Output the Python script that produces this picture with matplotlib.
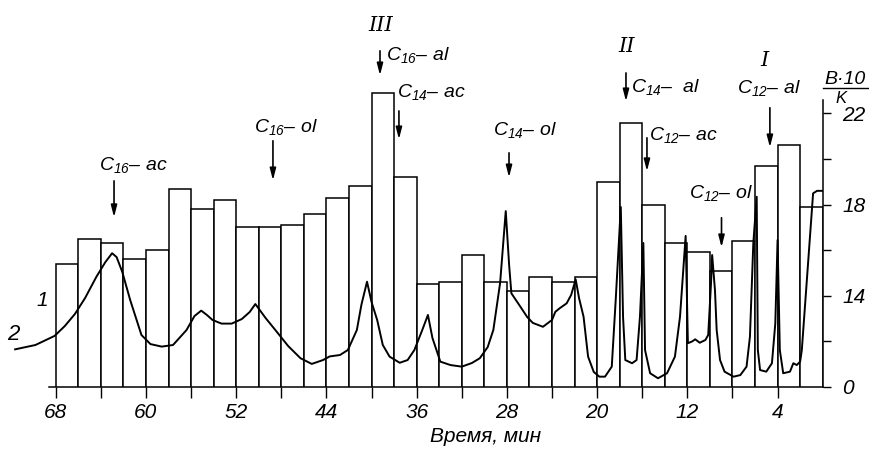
import numpy as np
import matplotlib
matplotlib.use('Agg')
import matplotlib.pyplot as plt

plt.rcParams['font.family'] = ['Liberation Sans', 'DejaVu Sans']
plt.rcParams['font.style'] = 'italic'
plt.rcParams['mathtext.fontset'] = 'custom'
plt.rcParams['mathtext.rm'] = 'Liberation Sans:italic'
plt.rcParams['mathtext.it'] = 'Liberation Sans:italic'

# fractions: 2-min cuts from 68 to 0 min, B*10/K per fraction
fraction_mid = np.arange(67, 0, -2)
fraction_val = [15.4, 16.5, 16.3, 15.6, 16.0, 18.7, 17.8, 18.2, 17.0, 17.0,
                17.1, 17.6, 18.3, 18.8, 22.9, 19.2, 14.5, 14.6, 15.8, 14.6,
                14.2, 14.8, 14.6, 14.8, 19.0, 21.6, 18.0, 16.3, 15.9, 15.1,
                16.4, 19.7, 20.6, 17.9]

# chromatogram trace (detector signal, arbitrary units)
trace_time = [71.6, 69.8, 68.1, 67.2, 66.3, 65.4, 64.4, 63.6, 63.0, 62.6,
              62.1, 61.4, 60.4, 59.6, 58.6, 57.6, 56.4, 55.7, 55.1, 54.6,
              54.1, 53.3, 52.4, 51.5, 50.8, 50.3, 49.4, 48.4, 47.4, 46.3,
              45.3, 44.3, 43.7, 42.8, 42.1, 41.3, 40.9, 40.4, 40.0, 39.5,
              39.0, 38.4, 37.5, 36.8, 36.2, 35.5, 35.0, 34.6, 33.9, 33.0,
              32.0, 31.1, 30.4, 29.7, 29.2, 28.6, 28.1, 27.8, 27.6, 26.8,
              26.2, 25.7, 24.8, 24.0, 23.7, 23.3, 22.7, 22.3, 21.9, 21.6,
              21.2, 20.8, 20.3, 19.8, 19.3, 18.7, 18.35, 17.9, 17.7, 17.5,
              16.9, 16.5, 16.2, 15.9, 15.75, 15.3, 14.6, 13.8, 13.1, 12.65,
              12.15, 11.95, 11.6, 11.3, 10.9, 10.4, 10.15, 9.9, 9.8, 9.55,
              9.4, 9.1, 8.7, 7.9, 7.3, 6.75, 6.45, 6.15, 5.85, 5.75,
              5.55, 5.0, 4.5, 4.2, 4.0, 3.8, 3.5, 2.9, 2.6, 2.3,
              2.0, 1.85, 0.85, 0.5, 0.05]
trace_signal = [1.64, 1.83, 2.23, 2.66, 3.19, 3.89, 4.82, 5.47, 5.86, 5.69,
                5.04, 3.81, 2.27, 1.87, 1.76, 1.83, 2.49, 3.10, 3.34, 3.15,
                2.93, 2.77, 2.77, 2.97, 3.28, 3.63, 3.02, 2.41, 1.79, 1.25,
                1.00, 1.17, 1.33, 1.39, 1.61, 2.49, 3.59, 4.61, 3.72, 2.93,
                1.83, 1.32, 1.05, 1.17, 1.61, 2.49, 3.15, 2.14, 1.10, 0.95,
                0.88, 1.04, 1.25, 1.74, 2.49, 4.55, 7.71, 5.34, 4.10, 3.51,
                3.06, 2.80, 2.63, 2.93, 3.29, 3.45, 3.66, 4.03, 4.71, 3.89,
                3.07, 1.32, 0.65, 0.44, 0.44, 0.88, 3.81, 7.89, 3.07, 1.17,
                1.03, 1.17, 3.07, 6.31, 1.61, 0.59, 0.37, 0.59, 1.32, 3.07,
                6.62, 1.91, 1.98, 2.08, 1.93, 2.05, 2.27, 4.54, 5.78, 4.24,
                2.49, 1.17, 0.66, 0.44, 0.51, 0.88, 2.19, 6.30, 8.34, 1.61,
                0.73, 0.66, 1.03, 2.78, 6.44, 1.61, 0.59, 0.66, 1.03, 0.95,
                1.10, 1.61, 8.49, 8.60, 8.60]

# peak markers: name, arrow time, arrow top, arrow tip, label pos (t, v)
marker_names = ['C$_{16}$– ac', 'C$_{16}$– ol', 'C$_{16}$– al', 'C$_{14}$– ac',
                'C$_{14}$– ol', 'C$_{14}$–  al', 'C$_{12}$– ac', 'C$_{12}$– ol',
                'C$_{12}$– al']
marker_time = [62.83, 48.74, 39.25, 37.57, 27.81, 17.44, 15.58, 8.97, 4.68]
marker_top = [19.16, 20.92, 24.87, 22.23, 20.39, 23.9, 21.05, 17.54, 22.37]
marker_tip = [17.32, 18.94, 23.55, 20.74, 19.07, 22.41, 19.34, 16.0, 20.39]
label_time = [61.1, 47.6, 35.9, 34.7, 26.4, 13.9, 12.4, 9.0, 4.8]
label_val = [19.75, 21.4, 24.56, 22.94, 21.27, 23.16, 21.03, 18.5, 23.12]

group_names = ['III', 'II', 'I']
group_time = [39.16, 17.35, 5.14]
group_val = [25.88, 24.96, 24.34]

fig = plt.figure(figsize=(8.69, 4.5), dpi=100)
ax = fig.add_axes([0.0122, 0.1407, 0.9345, 0.8593])

ax.bar(fraction_mid, fraction_val, width=2, color='white', edgecolor='black', linewidth=1.1)
ax.set_xlim(72, 0)
ax.set_ylim(10, 26.98)

ax2 = ax.twinx()
ax2.plot(trace_time, trace_signal, color='black', lw=1.4)
ax2.set_ylim(0, 16.98)
ax2.axis('off')

for s in ['top', 'left']:
    ax.spines[s].set_visible(False)
ax.spines['bottom'].set_bounds(0, 68.6)
ax.spines['right'].set_bounds(10, 22.6)
ax.spines['bottom'].set_linewidth(1.1)
ax.spines['right'].set_linewidth(1.1)

ax.set_xticks(np.arange(68, 0, -4))
ax.set_xticklabels([str(t) if t % 8 == 4 else '' for t in range(68, 0, -4)])
ax.tick_params(axis='x', direction='out', length=8, width=1.0, labelsize=15, pad=4)

ax.yaxis.tick_right()
ax.set_yticks([10, 12, 14, 16, 18, 20, 22])
ax.set_yticklabels(['0', '', '14', '', '18', '', '22'])
ax.tick_params(axis='y', direction='out', length=6, width=1.0, labelsize=15, pad=8)

for i in range(len(marker_names)):
    ax.annotate('', xy=(marker_time[i], marker_tip[i]), xytext=(marker_time[i], marker_top[i]),
                arrowprops=dict(arrowstyle='-|>,head_length=0.7,head_width=0.18',
                                color='black', lw=1.2))
    ax.text(label_time[i], label_val[i], marker_names[i], ha='center', va='center',
            fontsize=14, clip_on=False)

for i in range(len(group_names)):
    ax.text(group_time[i], group_val[i], group_names[i], ha='center', va='center',
            fontsize=15, family='DejaVu Serif', clip_on=False)

ax.text(69.2, 13.8, '1', ha='center', va='center', fontsize=15)
ax.text(71.75, 12.27, '2', ha='center', va='center', fontsize=16)

ax.text(1.0275, 0.795, 'B·10', transform=ax.transAxes, ha='center', va='center', fontsize=14)
ax.plot([1.0, 1.056], [0.772, 0.772], transform=ax.transAxes, color='black', lw=1.0, clip_on=False)
ax.text(1.022, 0.746, 'K', transform=ax.transAxes, ha='center', va='center', fontsize=12)

ax.text(0.585, -0.13, 'Время, мин', transform=ax.transAxes, ha='center', va='center', fontsize=15)

fig.savefig('out.png', dpi=100)
